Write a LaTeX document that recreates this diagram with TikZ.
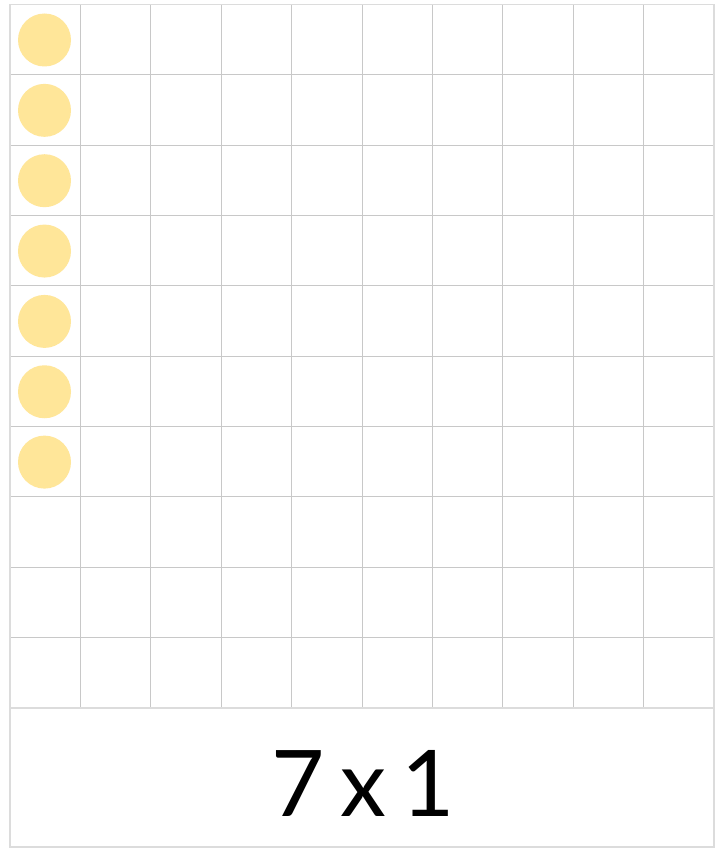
\documentclass[tikz,border=0pt]{standalone}
\usepackage{fontspec}
\newfontfamily\numfont{Lato}
\definecolor{gridgray}{HTML}{C8C8C8}
\definecolor{framegray}{HTML}{DCDCDC}
\definecolor{dotyellow}{HTML}{FFE699}
\tikzset{
  gridline/.style={draw=gridgray, line width=1pt},
  frameline/.style={draw=framegray, line width=1.6pt},
  counter/.style={circle, fill=dotyellow, draw=none, minimum size=53pt, inner sep=0pt},
  label/.style={font=\numfont\fontsize{92}{92}\selectfont, text=black, inner sep=0pt}
}
\begin{document}
\begin{tikzpicture}[x=1pt, y=-1pt]
\useasboundingbox[fill=white] (0,0) rectangle (726,848);
% inner grid lines
\foreach \i in {1,...,9} {
  \draw[gridline] ({10+70.4*\i},4.5) -- ({10+70.4*\i},708);
  \draw[gridline] (10,{4.5+70.35*\i}) -- (714,{4.5+70.35*\i});
}
% frame
\draw[frameline] (10,4.5) rectangle (714,847);
\draw[frameline] (10,708) -- (714,708);
% counters
\foreach \r in {0,...,6} {
  \node[counter] (c\r) at (44.5,{40+70.35*\r}) {};
}
\node[label] (eq) at (363.5,783) {7\hspace{0.17em}x\hspace{0.17em}1};
\end{tikzpicture}
\end{document}
